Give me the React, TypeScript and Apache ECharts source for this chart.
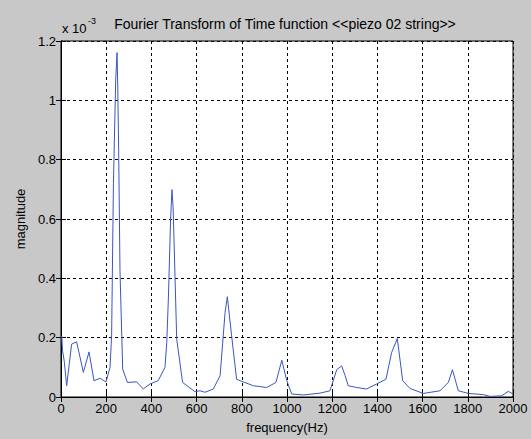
import React, { useEffect, useRef } from "react";
import * as echarts from "echarts";

const freq = [3, 7, 15, 25, 47, 69, 99, 124, 146, 173, 199, 217, 224, 232, 242, 248, 251, 255, 261, 273, 294, 335, 364, 394, 430, 460, 468, 475, 485, 488, 491, 496, 500, 512, 538, 593, 615, 637, 674, 704, 726, 736, 755, 777, 792, 851, 910, 951, 977, 999, 1021, 1073, 1146, 1190, 1220, 1242, 1257, 1271, 1308, 1352, 1397, 1438, 1463, 1488, 1512, 1544, 1603, 1677, 1714, 1732, 1758, 1803, 1869, 1898, 1950, 1979, 2000];
const magnitude = [0.206, 0.156, 0.117, 0.038, 0.178, 0.186, 0.083, 0.152, 0.055, 0.063, 0.051, 0.1, 0.206, 0.72, 1.069, 1.161, 1.052, 0.84, 0.425, 0.094, 0.049, 0.051, 0.027, 0.044, 0.055, 0.1, 0.184, 0.33, 0.6, 0.649, 0.699, 0.64, 0.53, 0.195, 0.049, 0.018, 0.021, 0.016, 0.027, 0.072, 0.285, 0.338, 0.206, 0.06, 0.055, 0.038, 0.032, 0.049, 0.124, 0.055, 0.01, 0.007, 0.013, 0.021, 0.092, 0.105, 0.072, 0.038, 0.032, 0.027, 0.044, 0.06, 0.15, 0.197, 0.055, 0.029, 0.012, 0.021, 0.049, 0.092, 0.021, 0.012, 0.008, 0.002, 0.004, 0.019, 0.01];

const titleText = "Fourier Transform of Time function <<piezo 02 string>>";
const xName = "frequency(Hz)";
const yName = "magnitude";

export default function App() {
  const ref = useRef<HTMLDivElement>(null);
  useEffect(() => {
    if (!ref.current) return;
    const chart = echarts.init(ref.current, undefined, { renderer: "svg" });
    const font = "'Liberation Sans', Arial, sans-serif";
    const gridL = 61, gridT = 41, gridR = 18, gridB = 41;
    const splitLine = { show: true, lineStyle: { color: "#000", type: [3, 3] as any, width: 1 } };
    const axisLabel = { color: "#000", fontSize: 13, fontFamily: font };
    chart.setOption({
      animation: false,
      backgroundColor: "#c8c8c8",
      title: {
        text: titleText,
        left: 285,
        top: 17,
        textAlign: "center",
        padding: 0,
        textStyle: { color: "#000", fontSize: 14, fontWeight: "normal", fontFamily: font },
      },
      grid: {
        left: gridL, top: gridT, right: gridR, bottom: gridB,
        show: true, backgroundColor: "#fff", borderColor: "#000", borderWidth: 1,
      },
      xAxis: [
        {
          type: "value", min: 0, max: 2000, interval: 200,
          axisLine: { show: true, lineStyle: { color: "#000" } },
          axisTick: { show: true, inside: true, length: 5, lineStyle: { color: "#000" } },
          axisLabel: { ...axisLabel, margin: 5, formatter: (v: number) => String(v) },
          splitLine,
          name: xName, nameLocation: "middle", nameGap: 24,
          nameTextStyle: { color: "#000", fontSize: 13, fontFamily: font },
        },
        {
          type: "value", min: 0, max: 2000, interval: 200, position: "top",
          axisLine: { show: true, lineStyle: { color: "#000" } },
          axisTick: { show: true, inside: true, length: 5, lineStyle: { color: "#000" } },
          axisLabel: { show: false }, splitLine: { show: false },
        },
      ],
      yAxis: [
        {
          type: "value", min: 0, max: 1.2, interval: 0.2,
          axisLine: { show: true, lineStyle: { color: "#000" } },
          axisTick: { show: true, inside: true, length: 5, lineStyle: { color: "#000" } },
          axisLabel: { ...axisLabel, margin: 5, formatter: (v: number) => String(Math.round(v * 10) / 10) },
          splitLine,
          name: yName, nameLocation: "middle", nameGap: 32,
          nameTextStyle: { color: "#000", fontSize: 13, fontFamily: font },
        },
        {
          type: "value", min: 0, max: 1.2, interval: 0.2, position: "right",
          axisLine: { show: true, lineStyle: { color: "#000" } },
          axisTick: { show: true, inside: true, length: 5, lineStyle: { color: "#000" } },
          axisLabel: { show: false }, splitLine: { show: false },
        },
      ],
      graphic: [
        { type: "text", left: 62, top: 22, style: { text: "x 10", fontSize: 13, fontFamily: font, fill: "#000" } },
        { type: "text", left: 88, top: 16, style: { text: "-3", fontSize: 9, fontFamily: font, fill: "#000" } },
      ],
      series: [
        {
          type: "line",
          xAxisIndex: 0, yAxisIndex: 0,
          data: freq.map((f, i) => [f, magnitude[i]]),
          showSymbol: false,
          lineStyle: { color: "#3a56c0", width: 1 },
        },
      ],
    });
    return () => chart.dispose();
  }, []);
  return <div ref={ref} style={{ position: "fixed", left: 0, top: 0, width: 531, height: 439 }} />;
}
